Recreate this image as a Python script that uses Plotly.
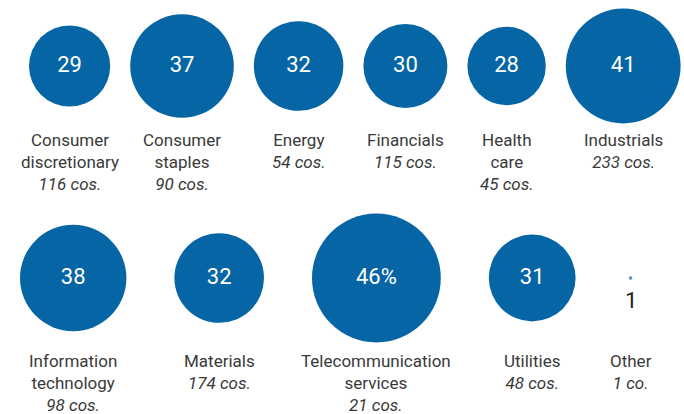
import plotly.graph_objects as go

# ---- data ----
sectors = ["Consumer<br>discretionary", "Consumer<br>staples", "Energy", "Financials",
           "Health<br>care", "Industrials", "Information<br>technology", "Materials",
           "Telecommunication<br>services", "Utilities", "Other"]
values = [29, 37, 32, 30, 28, 41, 38, 32, 46, 31, 1]
value_labels = ["29", "37", "32", "30", "28", "41", "38", "32", "46%", "31", "1"]
counts = ["116 cos.", "90 cos.", "54 cos.", "115 cos.", "45 cos.", "233 cos.",
          "98 cos.", "174 cos.", "21 cos.", "48 cos.", "1 co."]
rows = [0, 0, 0, 0, 0, 0, 1, 1, 1, 1, 1]

# ---- layout constants ----
W, H = 684, 414
PX_PER_UNIT = 2.8          # circle diameter (px) per value unit
ROW_START = [29, 20]       # left edge of each row
ROW_GAP = [20, 48]         # gap between neighbouring slots
ROW_Y = [66, 278]          # circle centre line of each row
LABEL_PAD = [5, 7]         # space between biggest circle and label block
MIN_W = 14
BLUE = "#0565a5"
TEXT = "#3a3a3a"
FONT = "Roboto, sans-serif"

diam = [v * PX_PER_UNIT for v in values]
xs, ys = [], []
cursor = {0: ROW_START[0], 1: ROW_START[1]}
for d, r in zip(diam, rows):
    w = max(d, MIN_W)
    xs.append(cursor[r] + w / 2)
    ys.append(ROW_Y[r])
    cursor[r] += w + ROW_GAP[r]

row_max_r = {r: max(d for d, rr in zip(diam, rows) if rr == r) / 2 for r in (0, 1)}

fig = go.Figure()
inside = [i for i, v in enumerate(values) if v >= 5]
outside = [i for i, v in enumerate(values) if v < 5]
fig.add_trace(go.Scatter(
    x=[xs[i] for i in inside], y=[ys[i] for i in inside],
    mode="markers+text",
    marker=dict(size=[diam[i] for i in inside], color=BLUE, line=dict(width=0), opacity=1),
    text=[value_labels[i] for i in inside], textposition="middle center",
    textfont=dict(family=FONT, size=22, color="white"),
    hoverinfo="skip", showlegend=False))
fig.add_trace(go.Scatter(
    x=[xs[i] for i in outside], y=[ys[i] for i in outside],
    mode="markers",
    marker=dict(size=[max(diam[i], 3.5) for i in outside], color=BLUE, line=dict(width=0)),
    hoverinfo="skip", showlegend=False))
for i in outside:
    fig.add_annotation(
        x=xs[i], y=ys[i] + 22, xref="x", yref="y", text=value_labels[i],
        showarrow=False, xanchor="center", yanchor="middle",
        font=dict(family=FONT, size=22, color="#222222"))

for i in range(len(values)):
    r = rows[i]
    fig.add_annotation(
        x=xs[i], y=ROW_Y[r] + row_max_r[r] + LABEL_PAD[r], xref="x", yref="y",
        text=f"{sectors[i]}<br><i>{counts[i]}</i>",
        showarrow=False, xanchor="center", yanchor="top", align="center",
        font=dict(family=FONT, size=17, color=TEXT))

fig.update_layout(
    width=W, height=H, margin=dict(l=0, r=0, t=0, b=0),
    paper_bgcolor="white", plot_bgcolor="white",
    xaxis=dict(range=[0, W], visible=False, fixedrange=True),
    yaxis=dict(range=[H, 0], visible=False, fixedrange=True),
)
fig.write_html("out.html")
